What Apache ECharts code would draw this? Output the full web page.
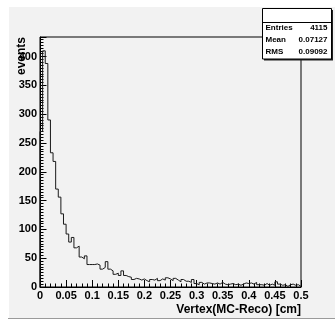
<!DOCTYPE html>
<html>
<head>
<meta charset="utf-8">
<script src="https://cdn.jsdelivr.net/npm/echarts@6/dist/echarts.min.js"></script>
<style>
html,body{margin:0;padding:0;background:#fff;}
#c{width:335px;height:320px;}
</style>
</head>
<body>
<div id="c"></div>
<script>
const binWidth = 0.005;
const xMin = 0, xMax = 0.5;
const counts = [
  270, 410, 388, 290, 233, 218, 170, 156, 127, 109,
  92, 78, 86, 68, 71, 52, 49, 54, 39, 39,
  39, 40, 38, 31, 34, 44, 31, 28, 22, 24,
  20, 28, 20, 18, 17, 13, 15, 14, 12, 14,
  11, 9, 13, 12, 15, 11, 14, 12, 16, 14,
  11, 15, 12, 9, 13, 10, 10, 8, 13, 6,
  4, 8, 5, 7, 7, 6, 5, 7, 5, 8,
  5, 4, 5, 6, 4, 5, 3, 5, 7, 6,
  7, 5, 8, 4, 4, 3, 6, 3, 5, 3,
  9, 5, 3, 4, 1, 4, 5, 3, 4, 1
];
const xTickLabels = ['0','0.05','0.1','0.15','0.2','0.25','0.3','0.35','0.4','0.45','0.5'];
const yTickLabels = ['0','50','100','150','200','250','300','350','400'];
const statNames = ['Entries','Mean','RMS'];
const statValues = ['4115','0.07127','0.09092'];
const xTitle = 'Vertex(MC-Reco) [cm]';
const yTitle = 'events';

const pts = [[xMin, 0]];
counts.forEach((c, i) => pts.push([xMin + i * binWidth, c]));
pts.push([xMax, counts[counts.length - 1]]);
pts.push([xMax, 0]);

const FONT = 'Liberation Sans, Arial, Helvetica, sans-serif';
const chart = echarts.init(document.getElementById('c'), null, {renderer: 'canvas'});

const statGraphics = [];
const rowY = [27.5, 39.5, 51.7];
statNames.forEach((n, i) => {
  statGraphics.push({type:'text', z:101, style:{text:n, x:265.5, y:rowY[i], align:'left', verticalAlign:'middle', font:'bold 8px ' + FONT, fill:'#000'}});
  statGraphics.push({type:'text', z:101, style:{text:statValues[i], x:327.5, y:rowY[i], align:'right', verticalAlign:'middle', font:'bold 8px ' + FONT, fill:'#000'}});
});

chart.setOption({
  animation: false,
  backgroundColor: '#fff',
  grid: {left: 40, right: 34, top: 37, bottom: 33, show: true, borderColor: '#000', borderWidth: 1, backgroundColor: 'transparent'},
  xAxis: {
    type: 'value', min: xMin, max: xMax, interval: 0.05,
    axisLine: {show: true, lineStyle: {color: '#000', width: 1}},
    axisTick: {show: true, inside: true, length: 7, lineStyle: {color: '#000'}},
    minorTick: {show: true, splitNumber: 5, length: 3.5, lineStyle: {color: '#000'}},
    splitLine: {show: false},
    axisLabel: {
      margin: 3, color: '#000', fontFamily: FONT, fontWeight: 'bold', fontSize: 11,
      formatter: v => { const k = Math.round(v / 0.05); return Math.abs(v - k * 0.05) < 1e-9 ? (xTickLabels[k] || '') : ''; }
    }
  },
  yAxis: {
    type: 'value', min: 0, max: 434, interval: 50,
    axisLine: {show: true, lineStyle: {color: '#000', width: 1}},
    axisTick: {show: true, inside: true, length: 6.5, lineStyle: {color: '#000'}},
    minorTick: {show: true, splitNumber: 10, length: 3.5, lineStyle: {color: '#000'}},
    splitLine: {show: false},
    axisLabel: {
      margin: 3, color: '#000', fontFamily: FONT, fontWeight: 'bold', fontSize: 11,
      formatter: v => { const k = Math.round(v / 50); return Math.abs(v - k * 50) < 1e-6 ? (yTickLabels[k] || '') : ''; }
    }
  },
  series: [{
    type: 'line', step: 'end', data: pts, showSymbol: false, symbol: 'none',
    lineStyle: {color: '#1a1a1a', width: 1}, z: 3
  }],
  graphic: [
    {type:'rect', z:-100, silent:true, shape:{x:8, y:7, width:327, height:311}, style:{fill:'#f2f2f2'}},
    {type:'line', z:-99, silent:true, shape:{x1:8, y1:318.5, x2:335, y2:318.5}, style:{stroke:'#9a9a9a', lineWidth:1}},
    {type:'line', z:-99, silent:true, shape:{x1:8.5, y1:7, x2:8.5, y2:318}, style:{stroke:'#ffffff', lineWidth:1}},
    {type:'text', z:50, style:{text:yTitle, x:21.5, y:37, align:'right', verticalAlign:'middle', font:'bold 12px ' + FONT, fill:'#000'}, rotation: Math.PI/2, x:0, y:0, originX:21.5, originY:37},
    {type:'text', z:50, style:{text:xTitle, x:301, y:309.5, align:'right', verticalAlign:'middle', font:'bold 12px ' + FONT, fill:'#000'}},
    {type:'rect', z:99, shape:{x:264, y:10, width:69, height:50.5}, style:{fill:'#222'}},
    {type:'rect', z:100, shape:{x:262.5, y:8.5, width:69, height:50.5}, style:{fill:'#fff', stroke:'#000', lineWidth:1}},
    {type:'line', z:100, shape:{x1:262.5, y1:22.5, x2:331.5, y2:22.5}, style:{stroke:'#000', lineWidth:1}},
    ...statGraphics
  ]
});
</script>
</body>
</html>
